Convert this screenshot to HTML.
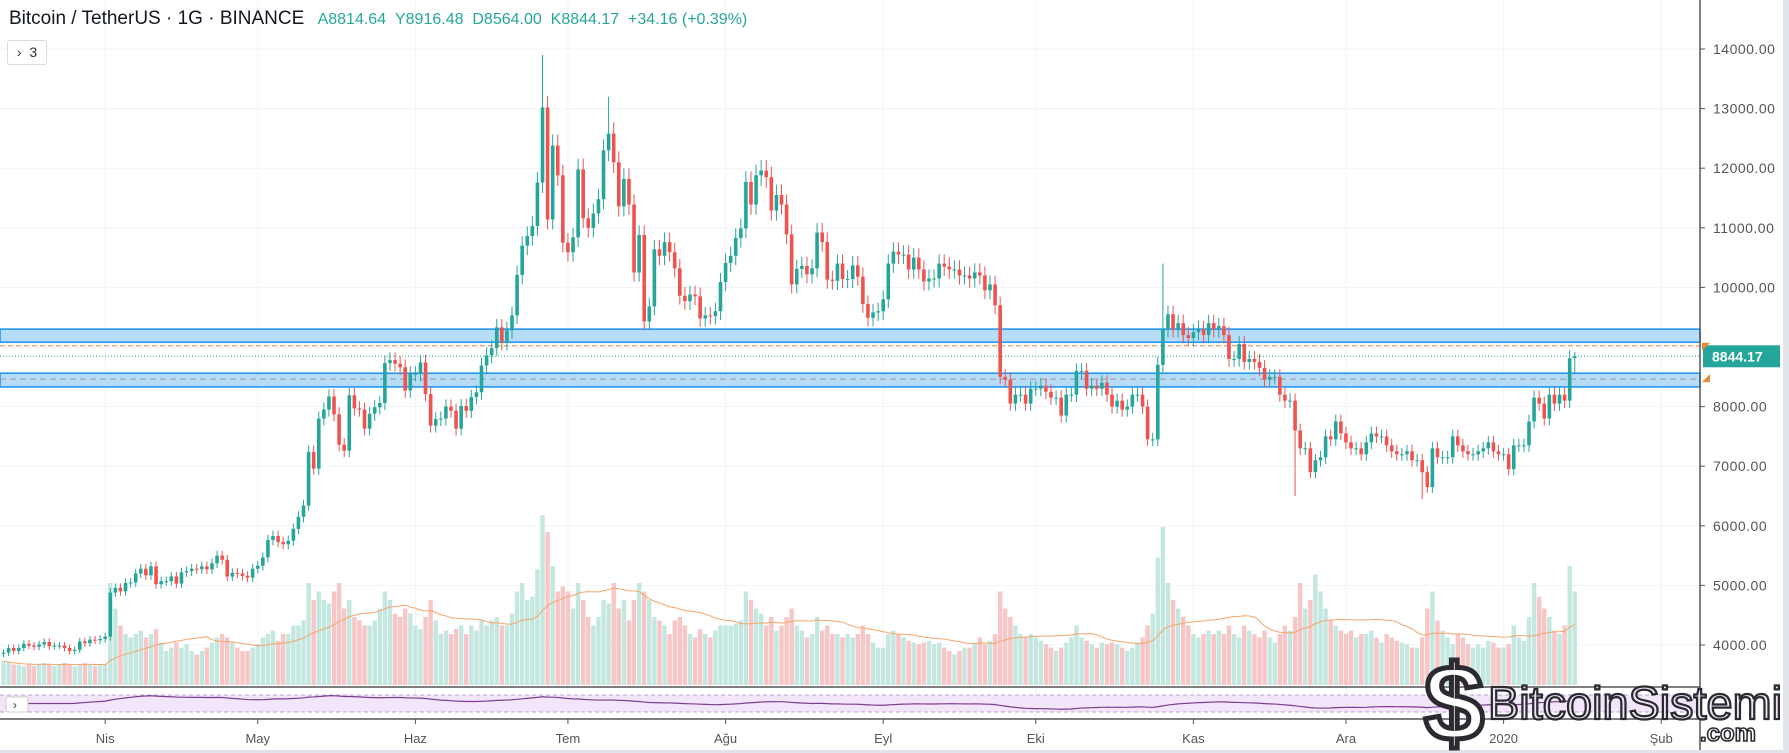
<!DOCTYPE html>
<html><head><meta charset="utf-8">
<style>
html,body{margin:0;padding:0;background:#fff;}
body{width:1789px;height:753px;overflow:hidden;position:relative;font-family:"Liberation Sans",sans-serif;}
#hdr{position:absolute;left:9px;top:8px;font-size:19px;color:#131722;white-space:nowrap;}
#hdr .v{color:#26a69a;font-size:16px;margin-left:8px;}
#legbox{position:absolute;left:7px;top:40px;width:38px;height:23px;border:1px solid #d8dbe3;border-radius:3px;background:#fff;font-size:14px;color:#333;line-height:23px;text-align:center;}
svg{position:absolute;left:0;top:0;}
</style></head>
<body>
<svg id="chart" width="1789" height="753"></svg>
<div id="hdr">Bitcoin / TetherUS · 1G · BINANCE <span class="v">A8814.64 &nbsp;Y8916.48 &nbsp;D8564.00 &nbsp;K8844.17 &nbsp;+34.16 (+0.39%)</span></div>
<div id="legbox">›&nbsp; 3</div>
<script>
const priceTicks=[14000,13000,12000,11000,10000,8000,7000,6000,5000,4000];
const monthLabels=["Nis","May","Haz","Tem","Ağu","Eyl","Eki","Kas","Ara","2020","Şub"];
const monthDayIndex=[20,50,81,111,142,173,203,234,264,295,326];
const closes=[3870,3950,3900,3950,4020,3990,3970,4010,4050,3980,3990,3990,3950,3900,3920,4060,4030,4090,4080,4100,
4140,4880,4960,4900,5040,5050,5200,5280,5170,5320,5020,5070,5070,5150,5030,5220,5240,5280,5270,5320,5270,5370,5500,5430,5150,5210,5200,5160,5130,5280,
5330,5470,5760,5830,5730,5690,5750,5950,6150,6340,7240,6960,7800,7950,8170,7870,7360,7260,8190,7970,7950,7630,7880,7990,8060,8730,8780,8720,8660,8270,8550,
8550,8740,8210,7680,7790,7800,8000,7930,7630,8010,7930,8160,8240,8690,8860,8980,9330,9080,9280,9530,10210,10700,10860,11030,11760,13020,11140,12380,11880,10750,
10590,10840,11980,11160,11000,11240,11480,12300,12580,12100,11360,11820,11390,10250,10880,9430,9680,10640,10530,10760,10590,10320,9860,9770,9880,9850,9480,9530,9520,9600,10090,
10410,10530,10830,10990,11770,11390,11880,11960,11850,11290,11550,11390,10890,10050,10310,10360,10220,10320,10920,10760,10130,10110,10400,10140,10140,10370,10180,9720,9490,9580,9600,
9800,10400,10600,10550,10550,10300,10500,10300,10100,10150,10150,10400,10350,10300,10300,10200,10200,10150,10250,10200,9950,10050,9700,8500,8450,8050,8200,8200,8050,8300,
8300,8350,8250,8150,8150,7850,8200,8200,8600,8600,8300,8350,8300,8400,8200,8000,8100,7950,8000,8200,8200,8000,7450,7450,8700,9300,9550,9300,9400,9200,9150,
9250,9300,9200,9400,9300,9350,9200,8800,8800,9050,8750,8800,8750,8650,8450,8500,8500,8200,8100,8100,7600,7300,7300,6900,7100,7150,7500,7450,7750,7550,
7400,7300,7300,7200,7400,7550,7500,7500,7350,7250,7200,7200,7250,7100,7100,6900,6650,7300,7150,7150,7150,7500,7350,7250,7200,7200,7250,7300,7400,7250,7200,
7200,6950,7350,7350,7350,7750,8150,8050,7800,8200,8050,8200,8100,8810,8844.17];
const volumes=[14,13,12,12,11,12,11,12,13,12,11,12,13,12,11,12,13,12,11,12,
12,60,45,35,30,28,30,32,28,30,33,25,20,22,25,22,24,20,18,20,22,25,28,30,28,25,22,20,20,22,
24,28,30,32,26,30,30,35,35,38,60,50,55,50,48,55,60,45,50,40,38,35,35,38,45,55,50,42,40,45,42,
35,33,40,50,38,30,32,30,33,35,30,35,32,38,35,38,40,35,35,42,55,60,50,52,68,100,90,70,55,58,
55,45,60,50,40,35,40,50,48,60,45,50,38,50,60,55,50,40,38,35,30,38,40,35,30,28,33,30,28,32,35,
35,35,36,38,55,50,45,42,35,40,32,35,40,45,35,32,28,30,40,32,35,30,30,28,30,28,30,35,30,25,22,
22,30,32,30,28,26,25,24,25,26,24,25,22,20,18,20,22,22,24,28,24,26,30,55,45,40,35,30,28,30,
28,26,24,22,20,22,25,28,35,28,26,24,22,25,24,25,24,22,20,22,25,28,35,42,75,93,60,50,45,40,35,
30,28,30,32,30,32,30,35,30,28,35,32,30,28,32,28,25,30,35,32,40,60,45,50,65,55,45,38,35,32,
30,32,28,30,30,32,28,25,30,28,26,25,24,22,22,28,45,55,38,32,28,24,30,28,24,22,24,22,26,25,22,
22,24,35,28,26,40,60,52,45,40,32,30,35,70,55];
const highOverrides={106:13900,119:13200,228:10400,309:8916.48};
const lowOverrides={309:8564,254:6500,279:6450};
const firstOpen=3850;
const lastOpen=8814.64;

const NS="http://www.w3.org/2000/svg";
const svg=document.getElementById('chart');
const PLOT_R=1700;
const yP=p=>49+(14000-p)*0.0596;
const xD=i=>3.5+i*5.085;
const VOL_BASE=685, yV=v=>VOL_BASE-v*1.7;
function mk(tag,attrs,parent){const e=document.createElementNS(NS,tag);for(const k in attrs)e.setAttribute(k,attrs[k]);(parent||svg).appendChild(e);return e;}

priceTicks.concat([9000]).forEach(p=>{const l=mk('line',{x1:0,x2:PLOT_R,y1:yP(p),y2:yP(p),stroke:'#f0f3fa','stroke-width':1});

});
monthDayIndex.forEach(d=>{const l=mk('line',{x1:xD(d),x2:xD(d),y1:0,y2:719,stroke:'#f0f3fa','stroke-width':1});

});

const opens=closes.map((c,i)=>i===0?firstOpen:(i===closes.length-1?lastOpen:closes[i-1]));
volumes.forEach((v,i)=>{const up=closes[i]>=opens[i];
const r=mk('rect',{x:xD(i)-2.2,y:yV(v),width:4.4,height:v*1.7,fill:up?'#c4e8e0':'#f8c6c6'});

});
let pts=[];volumes.forEach((v,i)=>{const s=volumes.slice(Math.max(0,i-19),i+1);const m=s.reduce((a,b)=>a+b,0)/s.length;pts.push(xD(i)+','+yV(m));});
const vma=mk('polyline',{points:pts.join(' '),fill:'none',stroke:'#f3a66a','stroke-width':1});



[[9300,9080],[8560,8330]].forEach((z,k)=>{const y1=yP(z[0]),y2=yP(z[1]);
const r=mk('rect',{x:0,y:y1,width:PLOT_R,height:y2-y1,fill:'#b7dcf7',stroke:'#2196f3','stroke-width':1.6});

});
const ol=mk('line',{x1:0,x2:PLOT_R,y1:yP(9020),y2:yP(9020),stroke:'#e8893a','stroke-width':1,'stroke-dasharray':'5,3'});


const gl=mk('line',{x1:0,x2:PLOT_R,y1:yP(8460),y2:yP(8460),stroke:'#999','stroke-width':1,'stroke-dasharray':'6,4'});


const cl=mk('line',{x1:0,x2:PLOT_R,y1:yP(8844.17),y2:yP(8844.17),stroke:'#26a69a','stroke-width':1,'stroke-dasharray':'1,2'});



closes.forEach((c,i)=>{const o=opens[i];const up=c>=o;const col=up?'#26a69a':'#ef5350';
const hi=highOverrides[i]!==undefined?highOverrides[i]:Math.max(o,c)*1.015;
const lo=lowOverrides[i]!==undefined?lowOverrides[i]:Math.min(o,c)*0.985;
const g=mk('g',{});


mk('line',{x1:xD(i),x2:xD(i),y1:yP(hi),y2:yP(lo),stroke:col,'stroke-width':1},g);
const t=yP(Math.max(o,c)),b=yP(Math.min(o,c));
mk('rect',{x:xD(i)-1.8,y:t,width:3.6,height:Math.max(1,b-t),fill:col},g);});

// RSI pane (smoothed)
mk('rect',{x:0,y:695,width:PLOT_R,height:17,fill:'#f3e6fb'});
[695,712].forEach(y=>{const l=mk('line',{x1:0,x2:PLOT_R,y1:y,y2:y,stroke:'#b9a3c9','stroke-width':1,'stroke-dasharray':'4,3'});

});
let ag=0,al=0,rp=[],sm=50;
for(let i=1;i<closes.length;i++){const d=closes[i]-closes[i-1];const g=Math.max(d,0),l=Math.max(-d,0);
if(i<=14){ag+=g/14;al+=l/14;}else{ag=(ag*13+g)/14;al=(al*13+l)/14;}
const rsi=i<14?50:100-100/(1+ag/(al||1e-9));sm=sm+(rsi-sm)*0.12;
rp.push(xD(i)+','+Math.max(694,Math.min(714,703.5-(sm-50)/30*9)));}
const rl=mk('polyline',{points:rp.join(' '),fill:'none',stroke:'#7b3f8f','stroke-width':1.2});


[687,719].forEach(y=>{const l=mk('line',{x1:0,x2:PLOT_R,y1:y,y2:y,stroke:'#555','stroke-width':1.5});

});
const rb=mk('rect',{x:6,y:697,width:22,height:15,fill:'#fff',stroke:'#ccc',rx:2});


const rbt=mk('text',{x:13,y:709,'font-size':12,fill:'#333'});rbt.textContent='›';



const ax=mk('line',{x1:PLOT_R,x2:PLOT_R,y1:0,y2:753,stroke:'#555','stroke-width':1.5});


priceTicks.forEach(p=>{mk('line',{x1:PLOT_R,x2:PLOT_R+5,y1:yP(p),y2:yP(p),stroke:'#555'});
const t=mk('text',{x:PLOT_R+13,y:yP(p)+5,'font-size':14,fill:'#555','letter-spacing':'0.5'});t.textContent=p.toFixed(2);

});
monthLabels.forEach((m,k)=>{const x=xD(monthDayIndex[k]);mk('line',{x1:x,x2:x,y1:719,y2:724,stroke:'#555'});
const t=mk('text',{x:x,y:743,'font-size':13,fill:'#555','text-anchor':'middle'});t.textContent=m;

});
const pl=mk('rect',{x:1703,y:yP(8844.17)-11,width:77,height:22,fill:'#26a69a'});


const plt=mk('text',{x:1712,y:yP(8844.17)+5,'font-size':14,fill:'#fff','font-weight':'bold'});plt.textContent=closes[closes.length-1].toFixed(2);


mk('polygon',{points:`1702,${yP(9020)-3} 1710,${yP(9020)-3} 1702,${yP(9020)+5}`,fill:'#e8893a'});
mk('polygon',{points:`1702,${yP(8460)+3} 1710,${yP(8460)+3} 1710,${yP(8460)-5}`,fill:'#e8893a'});
mk('rect',{x:1783,y:0,width:6,height:753,fill:'#e1e3ea'});
mk('rect',{x:0,y:750,width:1789,height:3,fill:'#e1e3ea'});

const lg=mk('g',{});


const dl=mk('text',{x:1424,y:740,'font-size':108,'font-family':'Liberation Sans, sans-serif','font-weight':'bold',fill:'#fff',stroke:'#2a2a30','stroke-width':5},lg);dl.textContent='$';
const bt=mk('text',{x:1488,y:719,'font-size':46,'font-family':'Liberation Sans, sans-serif',fill:'#eee6f5',stroke:'#2a2a30','stroke-width':2.2,textLength:294,lengthAdjust:'spacingAndGlyphs'},lg);bt.textContent='BitcoinSistemi';
const ct=mk('text',{x:1700,y:741,'font-size':24,'font-family':'Liberation Sans, sans-serif','font-weight':'bold',fill:'#fff',stroke:'#2a2a30','stroke-width':1.6},lg);ct.textContent='.com';
</script>
</body></html>
